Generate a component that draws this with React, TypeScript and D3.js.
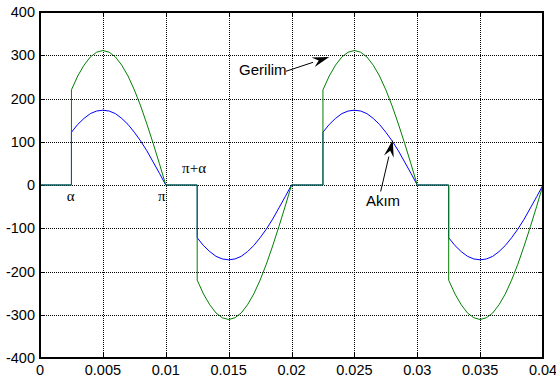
import React from "react";
import * as d3 from "d3";

// time samples (s)
const time = [
  0,
  0.0025, 0.0025, 0.003, 0.0035, 0.004, 0.0045, 0.005, 0.0055, 0.006, 0.0065, 0.007, 0.0075, 0.008, 0.0085, 0.009, 0.0095, 0.01,
  0.0125, 0.0125, 0.013, 0.0135, 0.014, 0.0145, 0.015, 0.0155, 0.016, 0.0165, 0.017, 0.0175, 0.018, 0.0185, 0.019, 0.0195, 0.02,
  0.0225, 0.0225, 0.023, 0.0235, 0.024, 0.0245, 0.025, 0.0255, 0.026, 0.0265, 0.027, 0.0275, 0.028, 0.0285, 0.029, 0.0295, 0.03,
  0.0325, 0.0325, 0.033, 0.0335, 0.034, 0.0345, 0.035, 0.0355, 0.036, 0.0365, 0.037, 0.0375, 0.038, 0.0385, 0.039, 0.0395, 0.04,
];
// Gerilim (voltage)
const voltage = [
  0,
  0, 220, 252, 277, 296, 307, 311, 307, 296, 277, 252, 220, 183, 141, 96, 49, 0,
  0, -220, -252, -277, -296, -307, -311, -307, -296, -277, -252, -220, -183, -141, -96, -49, 0,
  0, 220, 252, 277, 296, 307, 311, 307, 296, 277, 252, 220, 183, 141, 96, 49, 0,
  0, -220, -252, -277, -296, -307, -311, -307, -296, -277, -252, -220, -183, -141, -96, -49, 0,
];
// Akım (current)
const current = [
  0,
  0, 122, 140, 154, 165, 171, 173, 171, 165, 154, 140, 122, 102, 79, 53, 27, 0,
  0, -122, -140, -154, -165, -171, -173, -171, -165, -154, -140, -122, -102, -79, -53, -27, 0,
  0, 122, 140, 154, 165, 171, 173, 171, 165, 154, 140, 122, 102, 79, 53, 27, 0,
  0, -122, -140, -154, -165, -171, -173, -171, -165, -154, -140, -122, -102, -79, -53, -27, 0,
];

const xTicks = [0, 0.005, 0.01, 0.015, 0.02, 0.025, 0.03, 0.035, 0.04];
const xTickLabels = ["0", "0.005", "0.01", "0.015", "0.02", "0.025", "0.03", "0.035", "0.04"];
const yTicks = [-400, -300, -200, -100, 0, 100, 200, 300, 400];
const yTickLabels = ["-400", "-300", "-200", "-100", "0", "100", "200", "300", "400"];

// angle annotations: [label, t, value]
const angleLabels: [string, number, number][] = [
  ["α", 0.00212, -37],
  ["π", 0.00938, -37],
  ["π+α", 0.0113, 27],
];

export default function App() {
  const W = 556, H = 378;
  const x = d3.scaleLinear().domain([0, 0.04]).range([40, 543]);
  const y = d3.scaleLinear().domain([-400, 400]).range([358, 12]);
  const line = d3
    .line<number>()
    .x((_, i) => x(time[i]))
    .y((d) => y(d));
  const cx = (t: number) => Math.round(x(t)) + 0.5;
  const cy = (v: number) => Math.round(y(v)) + 0.5;

  const sans = "Arial, 'Liberation Sans', sans-serif";
  const serif = "'Times New Roman', 'Liberation Serif', serif";

  const arrow = (x1: number, y1: number, x2: number, y2: number) => {
    const ang = Math.atan2(y2 - y1, x2 - x1);
    const L = 17, Wd = 5;
    const bx = x2 - L * Math.cos(ang), by = y2 - L * Math.sin(ang);
    const px = -Math.sin(ang) * Wd, py = Math.cos(ang) * Wd;
    return (
      <g>
        <line x1={x1} y1={y1} x2={bx} y2={by} stroke="#000" strokeWidth={1} />
        <path d={`M${x2},${y2}L${bx + px},${by + py}L${bx + 0.35 * L * Math.cos(ang)},${by + 0.35 * L * Math.sin(ang)}L${bx - px},${by - py}Z`} fill="#000" />
      </g>
    );
  };

  return (
    <svg width={W} height={H} style={{ position: "fixed", left: 0, top: 0, background: "#fff" }}>
      <rect width={W} height={H} fill="#fff" />
      {/* grid */}
      {xTicks.slice(1, -1).map((t) => (
        <line key={"gx" + t} x1={cx(t)} x2={cx(t)} y1={y(400)} y2={y(-400)} stroke="#000" strokeWidth={1} strokeDasharray="1,1" />
      ))}
      {yTicks.slice(1, -1).map((t) => (
        <line key={"gy" + t} x1={x(0)} x2={x(0.04)} y1={cy(t)} y2={cy(t)} stroke="#000" strokeWidth={1} strokeDasharray="1,1" />
      ))}
      {/* ticks */}
      {xTicks.map((t) => (
        <g key={"tx" + t}>
          <line x1={cx(t)} x2={cx(t)} y1={y(-400)} y2={y(-400) - 5} stroke="#000" />
          <line x1={cx(t)} x2={cx(t)} y1={y(400)} y2={y(400) + 5} stroke="#000" />
        </g>
      ))}
      {yTicks.map((t) => (
        <g key={"ty" + t}>
          <line x1={x(0)} x2={x(0) + 5} y1={cy(t)} y2={cy(t)} stroke="#000" />
          <line x1={x(0.04)} x2={x(0.04) - 5} y1={cy(t)} y2={cy(t)} stroke="#000" />
        </g>
      ))}
      {/* series */}
      <path d={line(current) || ""} fill="none" stroke="#0000ff" strokeWidth={1} />
      <path d={line(voltage) || ""} fill="none" stroke="#008000" strokeWidth={1} />
      {/* box */}
      <rect x={x(0)} y={y(400)} width={x(0.04) - x(0)} height={y(-400) - y(400)} fill="none" stroke="#000" strokeWidth={2} />
      {/* tick labels */}
      {yTicks.map((t, i) => (
        <text key={"ly" + t} x={x(0) - 5} y={y(t)} dy="0.36em" textAnchor="end" fontFamily={sans} fontSize={14.5} fill="#000">
          {yTickLabels[i]}
        </text>
      ))}
      {xTicks.map((t, i) => (
        <text key={"lx" + t} x={x(t)} y={375} textAnchor="middle" fontFamily={sans} fontSize={14.5} fill="#000">
          {xTickLabels[i]}
        </text>
      ))}
      {/* angle labels */}
      {angleLabels.map(([s, t, v]) => (
        <text key={s} x={x(t)} y={y(v)} fontFamily={serif} fontSize={15} fill="#000">
          {s}
        </text>
      ))}
      {/* annotations */}
      <text x={x(0.01583)} y={y(254)} fontFamily={sans} fontSize={15} fill="#000">Gerilim</text>
      {arrow(x(0.01956), y(263), x(0.0230), y(296))}
      <text x={x(0.02592)} y={y(-49)} fontFamily={sans} fontSize={15} fill="#000">Akım</text>
      {arrow(x(0.02709), y(-15), x(0.02805), y(104))}
    </svg>
  );
}
